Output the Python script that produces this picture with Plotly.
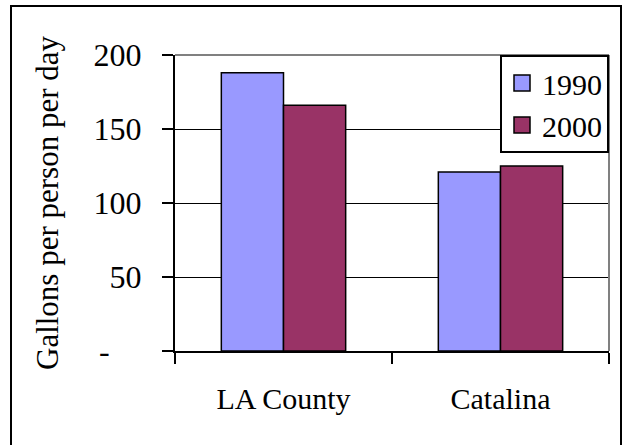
import plotly.graph_objects as go

# Daily per-capita water use
regions = ["LA County", "Catalina"]
years = ["1990", "2000"]
usage_1990 = [188, 121]
usage_2000 = [166, 125]

y_tick_values = [0, 50, 100, 150, 200]
y_tick_labels = ["-\u2007\u2007", "50", "100", "150", "200"]

COLORS = {"1990": "#9999FF", "2000": "#993366"}
FONT = "Liberation Serif, Times New Roman, serif"

W, H = 630, 445
L, R, T, B = 175, 21, 55, 94
PW, PH = W - L - R, H - T - B


def px_x(p):
    return (p - L) / PW


def px_y(p):
    return (H - B - p) / PH


fig = go.Figure()

for year, vals in zip(years, [usage_1990, usage_2000]):
    fig.add_trace(go.Bar(
        x=regions, y=vals, name=year,
        marker=dict(color=COLORS[year], line=dict(color="black", width=1.5)),
        showlegend=False, hoverinfo="skip",
    ))

# legend entries with larger square swatches
for i, year in enumerate(years):
    fig.add_trace(go.Scatter(
        x=[None], y=[None], mode="markers", name=year,
        legendgroup=f"g{i}",
        marker=dict(symbol="square", size=16, color=COLORS[year],
                    line=dict(color="black", width=1.5)),
    ))

fig.update_layout(
    width=W, height=H,
    margin=dict(l=L, r=R, t=T, b=B, autoexpand=False),
    paper_bgcolor="white", plot_bgcolor="white",
    font=dict(family=FONT, size=30, color="black"),
    barmode="group", bargap=0.427, bargroupgap=0,
    showlegend=True,
    legend=dict(
        x=1, xanchor="right", y=1, yanchor="top",
        bgcolor="white", bordercolor="black", borderwidth=2,
        font=dict(family=FONT, size=30), tracegroupgap=0,
        itemsizing="trace",
    ),
    xaxis=dict(
        type="category", showline=True, linecolor="black", linewidth=2,
        ticks="outside", tickson="boundaries", ticklen=11, tickwidth=2,
        tickcolor="black", showgrid=False, automargin=False,
        ticklabelstandoff=20,
    ),
    yaxis=dict(
        range=[0, 200], tickvals=y_tick_values, ticktext=y_tick_labels,
        tickfont=dict(family=FONT, size=32),
        showline=True, linecolor="black", linewidth=2,
        ticks="outside", ticklen=11, tickwidth=2, tickcolor="black",
        showgrid=True, gridcolor="black", gridwidth=1, zeroline=False,
        automargin=False, ticklabelstandoff=14,
        title=dict(text="Gallons per person per day",
                   font=dict(family=FONT, size=31), standoff=26),
    ),
    shapes=[
        # plot-area frame (top and right)
        dict(type="line", xref="paper", yref="paper", x0=0, x1=1, y0=1, y1=1,
             line=dict(color="#808080", width=2), layer="above"),
        dict(type="line", xref="paper", yref="paper", x0=1, x1=1, y0=0, y1=1,
             line=dict(color="#808080", width=2), layer="above"),
        # chart border
        dict(type="rect", xref="paper", yref="paper",
             x0=px_x(11), x1=px_x(621), y0=px_y(6), y1=px_y(470),
             line=dict(color="black", width=2), fillcolor="rgba(0,0,0,0)",
             layer="below"),
    ],
)

fig.write_html("out.html")
